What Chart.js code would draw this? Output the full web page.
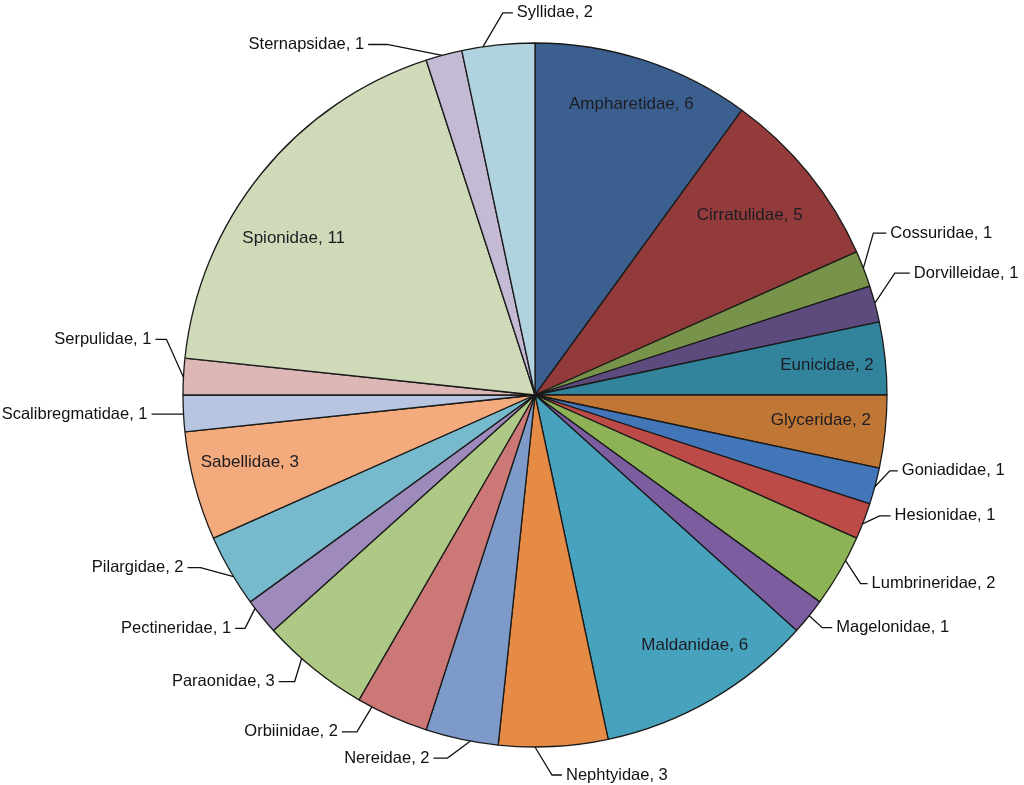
<!DOCTYPE html>
<html>
<head>
<meta charset="utf-8">
<title>Polychaete families</title>
<script src="https://cdn.jsdelivr.net/npm/chart.js@4.4.1/dist/chart.umd.min.js"></script>
<style>
  html, body { margin: 0; padding: 0; background: #fff; }
  #wrap { width: 1024px; height: 785px; }
</style>
</head>
<body>
<div id="wrap"><canvas id="pieChart" width="1024" height="785"></canvas></div>
<script>
// --- Дані ---
const families = ['Ampharetidae', 'Cirratulidae', 'Cossuridae', 'Dorvilleidae', 'Eunicidae', 'Glyceridae',
    'Goniadidae', 'Hesionidae', 'Lumbrineridae', 'Magelonidae', 'Maldanidae', 'Nephtyidae', 'Nereidae',
    'Orbiinidae', 'Paraonidae', 'Pectineridae', 'Pilargidae', 'Sabellidae', 'Scalibregmatidae',
    'Serpulidae', 'Spionidae', 'Sternapsidae', 'Syllidae'];
const counts = [6, 5, 1, 1, 2, 2, 1, 1, 2, 1, 6, 3, 2, 2, 3, 1, 2, 3, 1, 1, 11, 1, 2];

const sliceColors = ['#3b6090', '#933b3a', '#77944a', '#5e4b7d', '#31849b', '#c07634',
    '#4276b8', '#bc4a47', '#8db356', '#7b5da0', '#47a3bd', '#e58b45', '#7e9ac9',
    '#cb7876', '#aec886', '#9e8bbc', '#78bacd', '#f3aa7c', '#b7c5e0',
    '#ddb6b6', '#cedab8', '#c4bad4', '#b1d3df'];

// підписи всередині: [місце по куту 0..1, частка радіуса]
const innerSpots = [
    [0.51, 0.869], [0.47, 0.795], null, null, [0.51, 0.834], [0.42, 0.815],
    null, null, null, null, [0.43, 0.844], null, null, null, null, null, null,
    [0.6, 0.832], null, null, [0.41, 0.818], null, null
];

// виноски: [місце на дузі 0..1, злам dx, злам dy, довжина хвоста]
const callouts = [
    null, null,
    [0.48, 10, -35, 13],   // Cossuridae
    [0.48, 20, -30, 15],   // Dorvilleidae
    null, null,
    [0.52, 15, -16, 8],    // Goniadidae
    [0.58, 17, -8, 11],    // Hesionidae
    [0.34, 15, 23, 7],     // Lumbrineridae
    [0.47, 13, 12, 10],    // Magelonidae
    null,
    [0.667, 17, 28, 10],   // Nephtyidae
    [0.38, -23, 17, 14],   // Nereidae
    [0.8, -15, 25, 15],    // Orbiinidae
    [0.64, -7, 23, 16],    // Paraonidae
    [0.78, -10, 20, 10],   // Pectineridae
    [0.41, -33, -9, 13],   // Pilargidae
    null,
    [0.48, -16, 0, 16],    // Scalibregmatidae
    [0.48, -17, -38, 11],  // Serpulidae
    null,
    [0.45, -55, -11, 19],  // Sternapsidae
    [0.29, 20, -34, 10]    // Syllidae
];

const fontStack = '"Liberation Sans", Arial, Helvetica, sans-serif';

// --- Підписи ---
const sliceLabels = {
    id: 'sliceLabels',
    afterDatasetsDraw(chart) {
        const ctx = chart.ctx;
        const arcs = chart.getDatasetMeta(0).data;
        ctx.save();
        ctx.textBaseline = 'middle';
        arcs.forEach((arc, i) => {
            const { x, y, startAngle, endAngle, outerRadius } = arc.getProps(['x', 'y', 'startAngle', 'endAngle', 'outerRadius'], true);
            const text = families[i] + ', ' + counts[i];
            const spot = innerSpots[i];
            if (spot) {
                const a = startAngle + (endAngle - startAngle) * spot[0];
                const r = outerRadius * spot[1];
                ctx.font = '17px ' + fontStack;
                ctx.fillStyle = '#1c1c24';
                ctx.textAlign = 'center';
                ctx.fillText(text, x + r * Math.cos(a), y + r * Math.sin(a));
                return;
            }
            const c = callouts[i];
            if (!c) return;
            const a = startAngle + (endAngle - startAngle) * c[0];
            const ax = x + outerRadius * Math.cos(a);
            const ay = y + outerRadius * Math.sin(a);
            const ex = ax + c[1];
            const ey = ay + c[2];
            const right = c[1] > 0;
            const tx = right ? ex + c[3] : ex - c[3];
            ctx.strokeStyle = '#111';
            ctx.lineWidth = 1.3;
            ctx.beginPath();
            ctx.moveTo(ax, ay);
            ctx.lineTo(ex, ey);
            ctx.lineTo(tx, ey);
            ctx.stroke();
            ctx.font = '16.5px ' + fontStack;
            ctx.fillStyle = '#111';
            ctx.textAlign = right ? 'left' : 'right';
            ctx.fillText(text, right ? tx + 4 : tx - 4, ey);
        });
        ctx.restore();
    }
};

new Chart(document.getElementById('pieChart').getContext('2d'), {
    type: 'pie',
    data: {
        labels: families,
        datasets: [{
            data: counts,
            backgroundColor: sliceColors,
            borderColor: '#1a1a1a',
            borderWidth: 1.3,
            radius: 352
        }]
    },
    options: {
        responsive: false,
        animation: false,
        layout: { padding: { left: 46, right: 0, top: 5, bottom: 0 } },
        plugins: { legend: { display: false }, tooltip: { enabled: false } }
    },
    plugins: [sliceLabels]
});
</script>
</body>
</html>
